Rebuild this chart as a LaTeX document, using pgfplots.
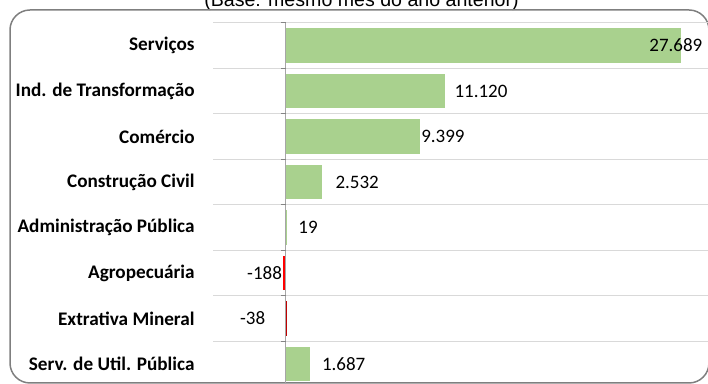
\documentclass[border=0pt]{standalone}
\usepackage{pgfplots}
\pgfplotsset{compat=1.18}
\usepackage{fontspec}
\setmainfont{Carlito}
\newfontfamily\arialfont{Liberation Sans}
\definecolor{barg}{HTML}{A9D18E}
\definecolor{barr}{HTML}{FF0000}
\definecolor{bardr}{HTML}{C00000}
\definecolor{gridc}{HTML}{D9D9D9}
\definecolor{framec}{HTML}{7F7F7F}
\definecolor{zeroc}{HTML}{A6A6A6}

\begin{document}
\begin{tikzpicture}
\begin{scope}
\clip (0,0) rectangle (354pt,192pt);
\node[font=\arialfont\fontsize{9.8}{11}\selectfont, anchor=base, inner sep=0pt]
  at (180.75pt,188.5pt) {(Base: mesmo mês do ano anterior)};
\draw[framec, line width=0.75pt, rounded corners=10pt] (5pt,0.5pt) rectangle (354.5pt,187pt);
\begin{axis}[
  scale only axis, width=247.5pt, height=182pt,
  anchor=south west, at={(106.5pt,-1.35pt)},
  xmin=-5117, xmax=29582, ymin=-0.5, ymax=7.5, y dir=reverse,
  xbar, bar width=0.756, bar shift=0pt,
  ytick={0,...,7},
  yticklabels={Serviços, Ind. de Transformação, Comércio, Construção Civil,
    Administração Pública, Agropecuária, Extrativa Mineral, Serv. de Util. Pública},
  xtick=\empty,
  minor ytick={-0.5,0.5,...,7.5}, yminorgrids,
  minor grid style={gridc, line width=0.5pt},
  axis line style={draw=none}, major tick length=0pt, minor tick length=0pt,
  yticklabel style={font=\bfseries\fontsize{9.6}{11}\selectfont, inner sep=0pt, xshift=-9pt, anchor=east},
  point meta=x, nodes near coords,
  every node near coord/.append style={font=\fontsize{9.5}{11}\selectfont, inner sep=0pt, text=black},
  lab/.style={every node near coord/.append style={anchor=west, xshift=#1}},
  labl/.style={every node near coord/.append style={anchor=east, xshift=#1}},
  /pgf/number format/1000 sep={.},
  /pgf/number format/assume math mode=true,
  clip=false,
]
\addplot[fill=barg, draw=none, lab=-16pt] coordinates {(27689,0)};
\addplot[fill=barg, draw=none, lab=4.75pt] coordinates {(11120,1)};
\addplot[fill=barg, draw=none, lab=0.4pt] coordinates {(9399,2)};
\addplot[fill=barg, draw=none, lab=6.5pt] coordinates {(2532,3)};
\addplot[fill=barg, draw=none, lab=5.85pt] coordinates {(19,4)};
\addplot[fill=barr, draw=none, labl=-0.5pt] coordinates {(-188,5)};
\addplot[fill=bardr, draw=bardr, line width=0.4pt, labl=-9.9pt] coordinates {(-38,6)};
\addplot[fill=barg, draw=none, lab=5.8pt] coordinates {(1687,7)};
\draw[zeroc, line width=0.5pt] (axis cs:0,-0.5) -- (axis cs:0,7.5);
\pgfplotsinvokeforeach{-0.5,0.5,1.5,2.5,3.5,4.5,5.5,6.5}{
  \draw[zeroc!80!black, line width=0.5pt] (axis cs:0,#1) -- ++(-2.5pt,0pt);
}
\end{axis}
\end{scope}
\pgfresetboundingbox
\useasboundingbox (0,0) rectangle (354pt,192pt);
\end{tikzpicture}
\end{document}
